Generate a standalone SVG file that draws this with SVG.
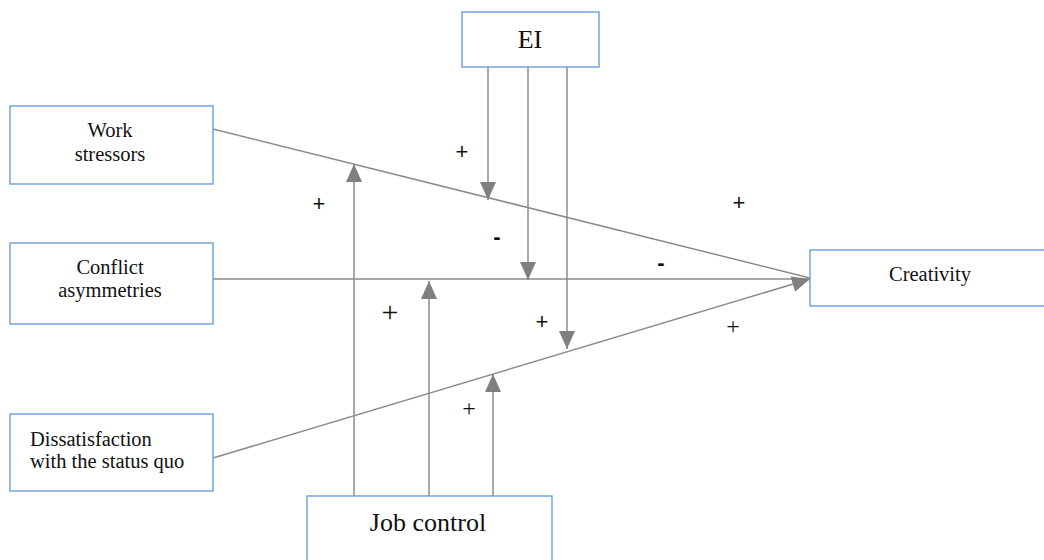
<svg xmlns="http://www.w3.org/2000/svg" width="1044" height="560" viewBox="0 0 1044 560">
<style>
.box{fill:#fff;stroke:#6a9ee0;stroke-width:1.4}
.lbl{font-family:"Liberation Serif","Times New Roman",serif;fill:#111;font-size:20.5px}
.big{font-size:26px}
.c{text-anchor:middle}
.ln{stroke:#8c8c8c;stroke-width:1.5;fill:none}
.sg{font-family:"Liberation Sans",Arial,sans-serif;fill:#111;text-anchor:middle;font-size:22px}
.sgs{font-family:"Liberation Serif","Times New Roman",serif;fill:#111;text-anchor:middle;font-size:24px}
</style>
<defs>
<marker id="ah" viewBox="0 0 18 16" refX="18" refY="8" markerWidth="18" markerHeight="16" markerUnits="userSpaceOnUse" orient="auto">
<path d="M0,0 L18,8 L0,16 Z" fill="#808080"/>
</marker>
</defs>
<rect width="1044" height="560" fill="#fff"/>
<g id="connectors">
<path class="ln" d="M213,129 L810,278"/>
<path class="ln" d="M213,279 L810,279"/>
<path class="ln" d="M213,458 L810,279" marker-end="url(#ah)"/>
<path class="ln" d="M488,67 L488,200" marker-end="url(#ah)"/>
<path class="ln" d="M528,67 L528,280" marker-end="url(#ah)"/>
<path class="ln" d="M567,67 L567,349" marker-end="url(#ah)"/>
<path class="ln" d="M354,496 L354,164" marker-end="url(#ah)"/>
<path class="ln" d="M429,496 L429,281" marker-end="url(#ah)"/>
<path class="ln" d="M493,496 L493,374" marker-end="url(#ah)"/>
</g>
<g id="ei">
<rect class="box" x="462" y="12" width="137" height="55"/>
<text class="lbl big c" x="530" y="48">EI</text>
</g>
<g id="work-stressors">
<rect class="box" x="10" y="106" width="203" height="78"/>
<text class="lbl c" x="110" y="137">Work</text>
<text class="lbl c" x="110" y="161">stressors</text>
</g>
<g id="conflict-asymmetries">
<rect class="box" x="10" y="243" width="203" height="81"/>
<text class="lbl c" x="110" y="274">Conflict</text>
<text class="lbl c" x="110" y="297">asymmetries</text>
</g>
<g id="dissatisfaction">
<rect class="box" x="10" y="414" width="203" height="77"/>
<text class="lbl" x="30" y="446">Dissatisfaction</text>
<text class="lbl" x="30" y="468">with the status quo</text>
</g>
<g id="job-control">
<rect class="box" x="307" y="496" width="245" height="80"/>
<text class="lbl big c" x="428" y="531">Job control</text>
</g>
<g id="creativity">
<rect class="box" x="810" y="250" width="250" height="56"/>
<text class="lbl c" x="930" y="281">Creativity</text>
</g>
<g id="signs">
<text class="sg" x="462" y="159">+</text>
<text class="sg" x="319" y="211">+</text>
<text class="sg" x="497" y="244" style="font-weight:bold">-</text>
<text class="sg" x="661" y="270" style="font-weight:bold">-</text>
<text class="sg" x="739" y="210">+</text>
<text class="sgs" x="390" y="322" style="font-size:30px">+</text>
<text class="sg" x="542" y="329">+</text>
<text class="sgs" x="733" y="334">+</text>
<text class="sgs" x="469" y="416">+</text>
</g>
</svg>
